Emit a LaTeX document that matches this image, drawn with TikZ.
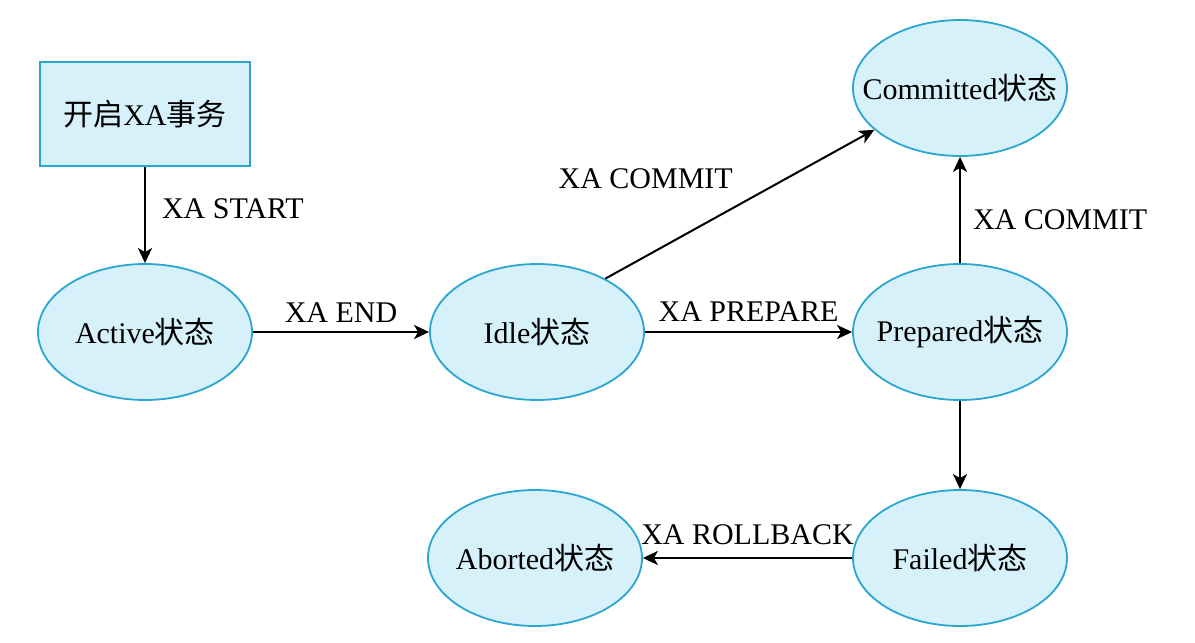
\documentclass[tikz,border=0pt]{standalone}
\usepackage{fontspec}
\setmainfont{Liberation Serif}
\newfontfamily\cjk{Noto Sans CJK SC}
\usetikzlibrary{arrows.meta,shapes.geometric}

\definecolor{statefill}{HTML}{D7F1FA}
\definecolor{stateline}{HTML}{2AA6D1}

\tikzset{
	state/.style={ellipse,draw=stateline,fill=statefill,line width=0.9pt,minimum width=107pt,minimum height=68pt,inner xsep=-25pt,inner ysep=0pt},
	startbox/.style={rectangle,draw=stateline,fill=statefill,line width=1pt,minimum width=105pt,minimum height=52pt,inner sep=0pt},
	trans/.style={line width=1pt,-{Stealth[length=7.5pt,width=7pt,inset=2pt]}},
	lbl/.style={font=\fontsize{15}{18}\selectfont,inner sep=2pt}
}

\begin{document}
\begin{tikzpicture}[x=0.5pt,y=-0.5pt,font=\fontsize{15}{18}\selectfont]
	\useasboundingbox[fill=white] (0,0) rectangle (1195,643);
	\node[startbox] (begin) at (145,114) {{\cjk 开启}XA{\cjk 事务}};
	\node[state] (active) at (145,332) {Active{\cjk 状态}};
	\node[state] (idle) at (537,332) {Idle{\cjk 状态}};
	\node[state] (prepared) at (960,332) {Prepared{\cjk 状态}};
	\node[state] (committed) at (960,88) {Committed{\cjk 状态}};
	\node[state] (failed) at (960,558) {Failed{\cjk 状态}};
	\node[state] (aborted) at (535,558) {Aborted{\cjk 状态}};

	\draw[trans] (begin) -- (active) node[lbl,midway,right,xshift=6pt,yshift=3pt]{XA START};
	\draw[trans] (active) -- (idle) node[lbl,midway,above,yshift=2pt]{XA END};
	\draw[trans] (idle) -- (prepared) node[lbl,midway,above,yshift=3pt]{XA PREPARE};
	\draw[trans] (idle.38) -- (committed.206) node[lbl,midway,anchor=south east,xshift=-1pt,yshift=5pt]{XA COMMIT};
	\draw[trans] (prepared) -- (committed) node[lbl,midway,right,xshift=4pt,yshift=-5pt]{XA COMMIT};
	\draw[trans] (prepared) -- (failed);
	\draw[trans] (failed) -- (aborted) node[lbl,midway,above,yshift=4pt]{XA ROLLBACK};
\end{tikzpicture}
\end{document}
